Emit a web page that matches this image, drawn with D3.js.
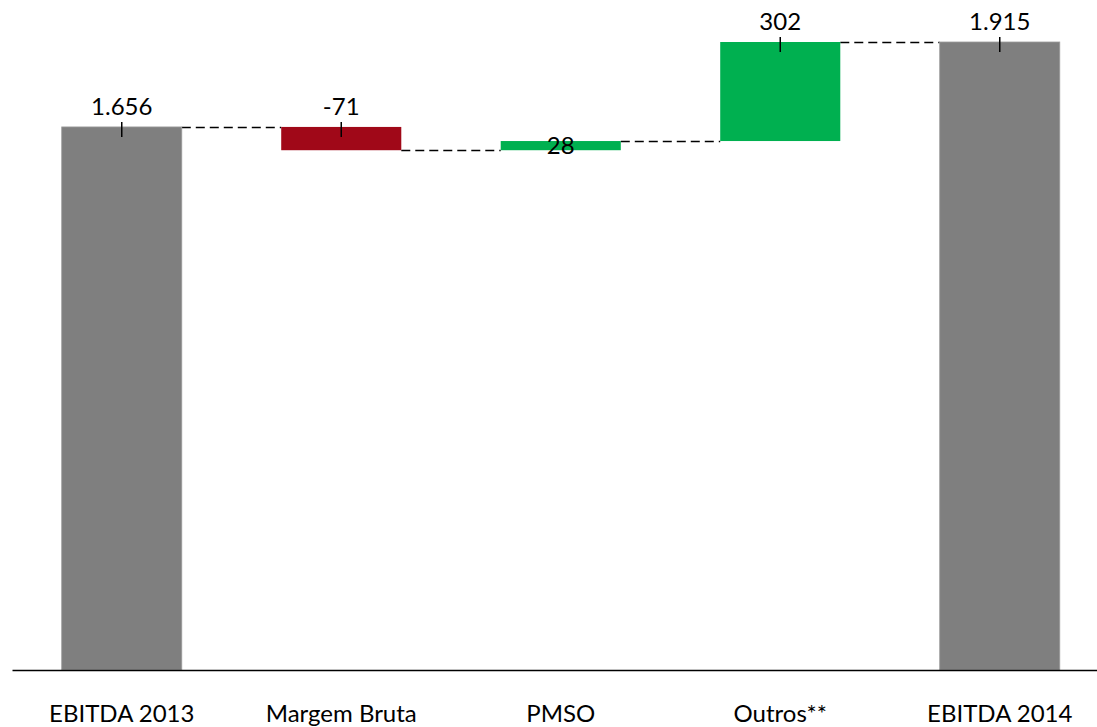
<!DOCTYPE html>
<html><head><meta charset="utf-8">
<script src="https://cdn.jsdelivr.net/npm/d3@7"></script>
<style>
html,body{margin:0;padding:0;background:#fff;}
svg{display:block;font-family:Lato, "Open Sans", sans-serif;}
</style></head>
<body>
<svg id="chart" width="1097" height="727"></svg>
<script>
const categories = ["EBITDA 2013", "Margem Bruta", "PMSO", "Outros**", "EBITDA 2014"];
const values = [1656, -71, 28, 302, 1915];
const valueLabels = ["1.656", "-71", "28", "302", "1.915"];
const kinds = ["total", "delta", "delta", "delta", "total"];

const colors = {total: "#7f7f7f", neg: "#a00818", pos: "#00b050"};

const svg = d3.select("#chart");
const x = d3.scaleBand().domain(categories).range([12, 1109.5]).paddingInner(0.453).paddingOuter(0.2265);
const y = d3.scaleLinear().domain([0, 1915]).range([670, 42]);

let running = 0;
const bars = categories.map((c, i) => {
  let start, end;
  if (kinds[i] === "total") { start = 0; end = values[i]; running = values[i]; }
  else { start = running; end = running + values[i]; running = end; }
  return {cat: c, start, end, total: running, label: valueLabels[i], kind: kinds[i], v: values[i]};
});

const bw = x.bandwidth();

// connectors
for (let i = 0; i < bars.length - 1; i++) {
  svg.append("line")
    .attr("x1", x(bars[i].cat) + bw).attr("x2", x(bars[i + 1].cat))
    .attr("y1", Math.round(y(bars[i].total)) + 0.5).attr("y2", Math.round(y(bars[i].total)) + 0.5)
    .attr("stroke", "#000").attr("stroke-width", 1.4).attr("stroke-dasharray", "9,5");
}

// bars
svg.selectAll("rect.bar").data(bars).join("rect")
  .attr("class", "bar")
  .attr("x", d => x(d.cat)).attr("width", bw)
  .attr("y", d => y(Math.max(d.start, d.end)))
  .attr("height", d => Math.abs(y(d.start) - y(d.end)))
  .attr("fill", d => d.kind === "total" ? colors.total : (d.v < 0 ? colors.neg : colors.pos))
  .attr("stroke", d => d.kind === "total" ? "#9c9c9c" : "none")
  .attr("stroke-width", 0.8);

// tick marks and labels
bars.forEach(d => {
  const top = y(Math.max(d.start, d.end));
  const bottom = y(Math.min(d.start, d.end));
  const h = bottom - top;
  const cx = x(d.cat) + bw / 2;
  if (h >= 15) {
    svg.append("line").attr("x1", cx).attr("x2", cx)
      .attr("y1", top - 5).attr("y2", top + 10)
      .attr("stroke", "#000").attr("stroke-width", 1.5);
    svg.append("text").attr("x", cx).attr("y", top - 12)
      .attr("text-anchor", "middle").attr("font-size", 24).attr("fill", "#000")
      .text(d.label);
  } else {
    svg.append("text").attr("x", cx).attr("y", (top + bottom) / 2 + 8.5)
      .attr("text-anchor", "middle").attr("font-size", 24).attr("fill", "#000")
      .text(d.label);
  }
});

// axis
const ax = svg.append("g").attr("transform", "translate(0,670)")
  .call(d3.axisBottom(x).tickSize(0).tickSizeOuter(0));
ax.select(".domain").attr("stroke", "#000").attr("stroke-width", 1.5);
ax.selectAll("text").attr("y", 52).attr("dy", 0)
  .attr("font-size", 24).attr("font-family", "Lato, 'Open Sans', sans-serif").attr("fill", "#000");
</script>
</body></html>
